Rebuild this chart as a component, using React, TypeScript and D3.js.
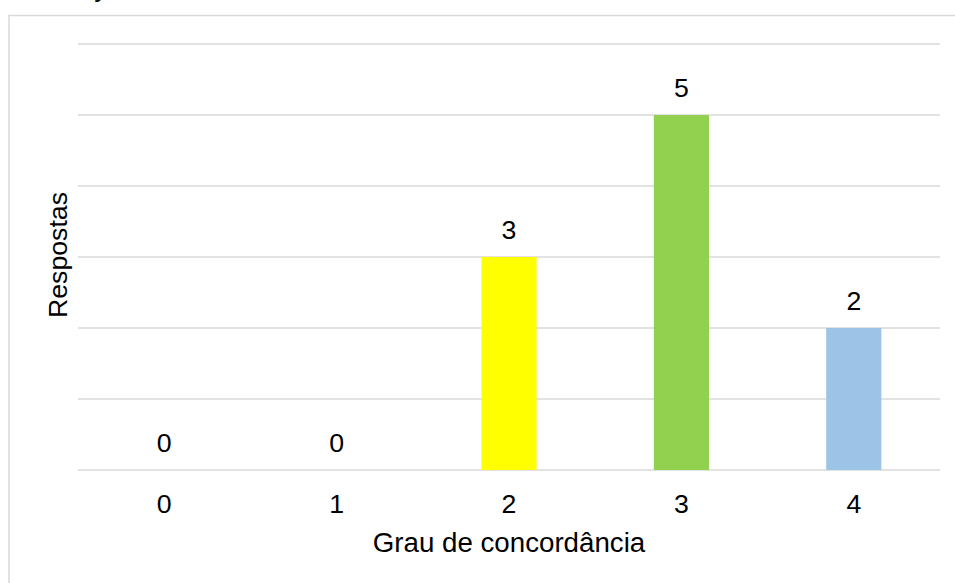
import React from "react";
import * as d3 from "d3";

const categories = ["0", "1", "2", "3", "4"];
const values = [0, 0, 3, 5, 2];
const colors = ["#5B9BD5", "#ED7D31", "#FFFF00", "#92D050", "#9DC3E6"];
const yTicks = [0, 1, 2, 3, 4, 5, 6];

export default function App() {
  const W = 955, H = 583;
  const x = d3.scaleBand<string>().domain(categories).range([78, 940]).paddingInner(0.68).paddingOuter(0.34);
  const y = d3.scaleLinear().domain([0, 6]).range([470, 44]);
  const font = "'Liberation Sans', Arial, sans-serif";
  const bw = x.bandwidth();
  return (
    <svg width={W} height={H} style={{ position: "absolute", left: 0, top: 0 }} fontFamily={font}>
      <rect x={0} y={0} width={W} height={H} fill="#fff" />
      <rect x={9} y={15.5} width={960} height={600} fill="#fff" stroke="#d9d9d9" strokeWidth={1.5} />
      <text x={101} y={-3} fontSize={26.7} textAnchor="middle" fill="#000">y</text>
      {yTicks.map((t) => (
        <line key={t} x1={78} x2={940} y1={y(t)} y2={y(t)} stroke="#d9d9d9" strokeWidth={1.3} />
      ))}
      {categories.map((c, i) => (
        <g key={c}>
          {values[i] > 0 && (
            <rect x={x(c)!} y={y(values[i])} width={bw} height={y(0) - y(values[i])} fill={colors[i]} />
          )}
          <text x={x(c)! + bw / 2} y={y(values[i]) - 18} fontSize={26.7} textAnchor="middle" fill="#000">
            {values[i]}
          </text>
          <text x={x(c)! + bw / 2} y={513} fontSize={26.7} textAnchor="middle" fill="#000">
            {c}
          </text>
        </g>
      ))}
      <text x={509} y={552} fontSize={27.7} textAnchor="middle" fill="#000">Grau de concordância</text>
      <text transform={`translate(67,255) rotate(-90)`} fontSize={26.7} textAnchor="middle" fill="#000">Respostas</text>
    </svg>
  );
}
